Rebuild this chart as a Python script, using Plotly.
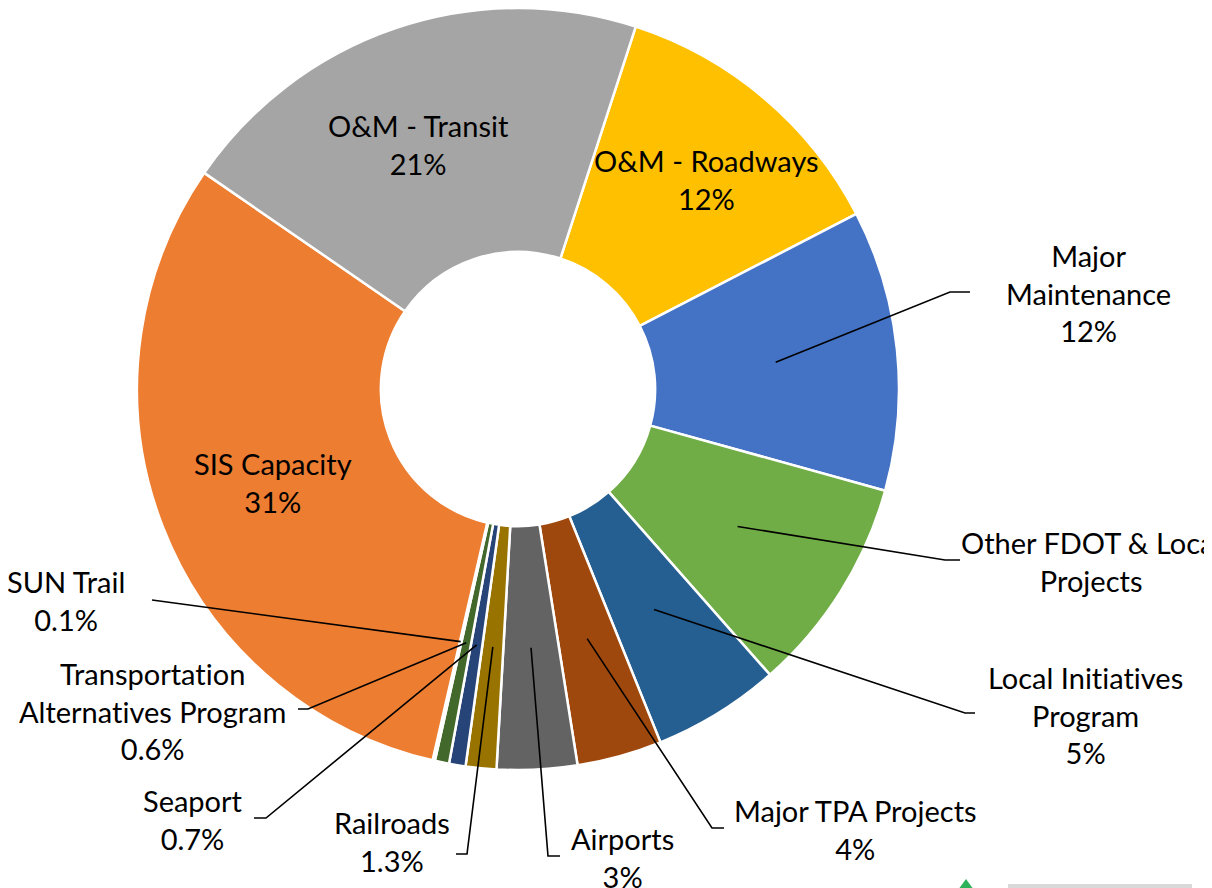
import math
import plotly.graph_objects as go

# ---------------- data ----------------
categories = ["O&M - Roadways", "Major Maintenance", "Other FDOT & Local Projects",
              "Local Initiatives Program", "Major TPA Projects", "Airports", "Railroads",
              "Seaport", "Transportation Alternatives Program", "SUN Trail",
              "SIS Capacity", "O&M - Transit"]
shares = [12.4, 11.9, 9.2, 5.4, 3.6, 3.4, 1.3, 0.7, 0.6, 0.1, 31.0, 20.4]
pct_labels = ["12%", "12%", "", "5%", "4%", "3%", "1.3%", "0.7%", "0.6%", "0.1%", "31%", "21%"]
colors = ["#FFC000", "#4472C4", "#70AD47", "#255E91", "#9E480E", "#636363", "#997300",
          "#264478", "#43682B", "#698ED0", "#ED7D31", "#A5A5A5"]

# ---------------- layout ----------------
OFF = 8                             # page body margin of the html page
W, H = 1212 - OFF, 888 - OFF
CX, CY, R = 518, 389, 381          # pie centre / radius in window px
HOLE = 0.36
ROT = 18
FONT = "Lato"
FS = 29
ZWNJ = "\u200c"                     # stops the font's "ti" ligature

def px(x):
    return (x - OFF) / W

def py(y):
    return 1 - (y - OFF) / H

def clamp(v):
    return min(1.0, max(0.0, v))

# label blocks: (text lines, centre x, centre y) in window px
label_text = {
    "O&M - Transit": ("O&M - Transit", 418, 144),
    "O&M - Roadways": ("O&M - Roadways", 706, 179),
    "SIS Capacity": ("SIS Capacity", 273, 482),
    "Major Maintenance": ("Major<br>Maintenance", 1088, 293),
    "Other FDOT & Local Projects": ("Other FDOT & Local<br>Projects", 1091, 561),
    "Local Initiatives Program": ("Local Initiatives<br>Program", 1085, 715),
    "Major TPA Projects": ("Major TPA Projects", 856, 829),
    "Airports": ("Airports", 622, 857),
    "Railroads": ("Railroads", 392, 841),
    "Seaport": ("Seaport", 193, 819),
    "Transportation Alternatives Program": ("Transportation<br>Alternatives Program", 152, 711),
    "SUN Trail": ("SUN Trail", 66, 600),
}
# leader lines: elbow point and end point (window px)
leaders = {
    "Major Maintenance": ((950, 292), (970, 292)),
    "Other FDOT & Local Projects": ((945, 560), (960, 560)),
    "Local Initiatives Program": ((965, 713), (975, 713)),
    "Major TPA Projects": ((712, 828), (724, 828)),
    "Airports": ((548, 856), (560, 856)),
    "Railroads": ((467, 854), (456, 854)),
    "Seaport": ((266, 818), (254, 818)),
    "Transportation Alternatives Program": ((308, 709), (298, 709)),
    "SUN Trail": ((152, 600), (152, 600)),
}

fig = go.Figure(go.Pie(
    labels=categories,
    values=shares,
    sort=False,
    direction="clockwise",
    rotation=ROT,
    hole=HOLE,
    marker=dict(colors=colors, line=dict(color="white", width=2.5)),
    textinfo="none",
    hoverinfo="label+percent",
    showlegend=False,
    domain=dict(x=[clamp(px(CX - R)), clamp(px(CX + R))],
                y=[clamp(py(CY + R)), clamp(py(CY - R))]),
))

annotations = []
shapes = []
total = sum(shares)
cum = 0.0
r_anchor = R * (1 + HOLE) / 2
for cat, v, pct in zip(categories, shares, pct_labels):
    mid = ROT + 360 * (cum + v / 2) / total
    cum += v
    txt, lx, ly = label_text[cat]
    full = txt + ("<br>" + pct if pct else "")
    full = full.replace("ti", "t" + ZWNJ + "i")
    annotations.append(dict(
        text=full, x=px(lx), y=py(ly), xref="paper", yref="paper",
        xanchor="center", yanchor="middle", align="center", showarrow=False,
        font=dict(family=FONT, size=FS, color="#000000"),
    ))
    if cat in leaders:
        ax = CX + r_anchor * math.sin(math.radians(mid))
        ay = CY - r_anchor * math.cos(math.radians(mid))
        (ex, ey), (fx, fy) = leaders[cat]
        path = f"M {px(ax)} {py(ay)} L {px(ex)} {py(ey)} L {px(fx)} {py(fy)}"
        shapes.append(dict(type="path", path=path, xref="paper", yref="paper",
                           line=dict(color="black", width=1.6)))

# partially visible logo at the bottom-right corner (only its top edge shows)
shapes.append(dict(type="path", xref="paper", yref="paper",
                   path=f"M {px(958)} {py(890)} L {px(966)} {py(879)} L {px(974)} {py(890)} Z",
                   fillcolor="#2fb35a", line=dict(width=0)))
shapes.append(dict(type="rect", xref="paper", yref="paper",
                   x0=px(1008), x1=px(1192), y0=py(890), y1=py(884),
                   fillcolor="#d9d9d9", line=dict(width=0)))

fig.update_layout(
    width=W, height=H,
    margin=dict(l=0, r=0, t=0, b=0),
    paper_bgcolor="white", plot_bgcolor="white",
    annotations=annotations, shapes=shapes,
)
fig.write_html("out.html")
